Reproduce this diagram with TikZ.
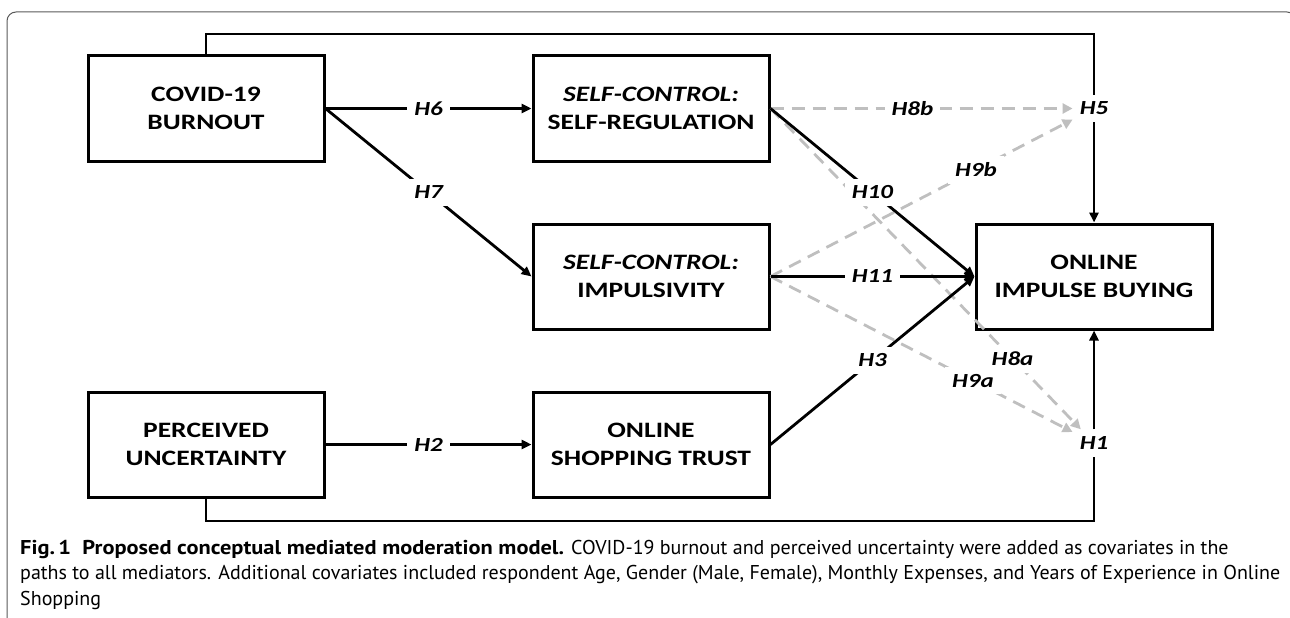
\documentclass[tikz,border=0pt]{standalone}
\usepackage{fontspec}
\setmainfont[FakeStretch=1.25]{Carlito}
\newfontfamily\capfont[BoldFeatures={FakeStretch=1.12}]{PT Sans}
\usetikzlibrary{arrows.meta}

\tikzset{
  var/.style={draw, line width=3pt, minimum width=236pt, minimum height=105pt,
    align=center, font=\fontsize{22}{28}\selectfont\bfseries},
  hyp/.style={fill=white, text=black, inner sep=7pt, font=\fontsize{20}{25}\selectfont\bfseries\itshape},
  effect/.style={line width=2.8pt, -{Triangle[length=10pt,width=9pt]}},
  moder/.style={line width=2.8pt, gray!50, dash pattern=on 13pt off 8pt,
    -{Triangle[length=10pt,width=10pt]}},
}

\begin{document}
\begin{tikzpicture}[x=1pt,y=-1pt]
  \useasboundingbox (0,0) rectangle (1290,618);
  \begin{scope}
    \clip (0,0) rectangle (1290,618);
    \draw[gray!70!black, line width=1pt, rounded corners=9pt] (7,12) rectangle (1296,626);
  \end{scope}

  % constructs
  \node[var] (covid) at (206,108.5) {COVID-19\\BURNOUT};
  \node[var] (selfreg) at (651,108.5) {\textit{SELF-CONTROL:}\\SELF-REGULATION};
  \node[var] (impuls) at (651,276.5) {\textit{SELF-CONTROL:}\\IMPULSIVITY};
  \node[var] (buying) at (1094,276.5) {ONLINE\\IMPULSE BUYING};
  \node[var] (uncert) at (206,444.5) {PERCEIVED\\UNCERTAINTY};
  \node[var] (trust) at (651,444.5) {ONLINE\\SHOPPING TRUST};

  % moderation points
  \node[hyp] (h5) at (1094,108.5) {H5};
  \node[hyp] (h1) at (1094,443) {H1};
  \coordinate (topl) at (206,34);
  \coordinate (topr) at (1094,34);
  \coordinate (botl) at (206,521);
  \coordinate (botr) at (1094,521);

  % moderated paths first, so the solid ones sit on top
  \draw[moder] (selfreg.east) -- node[hyp, pos=0.47] {H8b} (h5);
  \draw[moder] (impuls.east) -- node[hyp, pos=0.68] {H9b} (h5);
  \draw[moder] (selfreg.east) -- node[hyp, pos=0.78] {H8a} (h1);
  \draw[moder] (impuls.east) -- node[hyp, pos=0.67] {H9a} (h1);

  \draw[line width=2.8pt] (covid.north) -- (topl) -- (topr) -- (h5);
  \draw[effect] (h5) -- (buying.north);
  \draw[line width=2.8pt] (uncert.south) -- (botl) -- (botr) -- (h1);
  \draw[effect] (h1) -- (buying.south);

  \draw[effect] (covid) -- node[hyp] {H6} (selfreg);
  \draw[effect] (covid.east) -- node[hyp] {H7} (impuls.west);
  \draw[effect] (uncert) -- node[hyp] {H2} (trust);
  \draw[effect] (selfreg.east) -- node[hyp] {H10} (buying.west);
  \draw[effect] (impuls) -- node[hyp] {H11} (buying);
  \draw[effect] (trust.east) -- node[hyp] {H3} (buying.west);

  % caption
  \node[anchor=north west, align=left, inner sep=0pt,
    font=\capfont\fontsize{20}{25.5}\selectfont] (caption) at (20,540)
    {\textbf{Fig.\,1\ \ Proposed conceptual mediated moderation model.} COVID-19 burnout and perceived uncertainty were added as covariates in the\\
     paths to all mediators. Additional covariates included respondent Age, Gender (Male, Female), Monthly Expenses, and Years of Experience in Online\\
     Shopping};
\end{tikzpicture}
\end{document}
